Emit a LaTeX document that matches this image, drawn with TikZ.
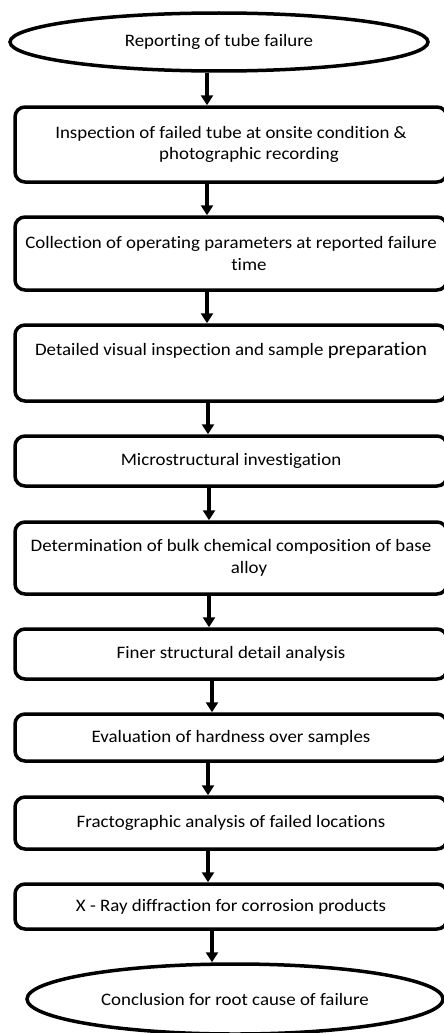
\documentclass[tikz,border=0pt]{standalone}
\usepackage{fontspec}
\setmainfont[FakeStretch=1.08, Ligatures=NoCommon]{Carlito}
\usetikzlibrary{shapes.geometric,arrows.meta}
\tikzset{
  stepbox/.style={draw=black, line width=3.5pt, rounded corners=10pt, minimum width=432pt,
    align=center, inner sep=0pt, font=\fontsize{17.5}{21.5}\selectfont},
  termnode/.style={draw=black, ellipse, line width=3.5pt, inner sep=0pt, align=center,
    font=\fontsize{17.5}{21.5}\selectfont},
  arr/.style={line width=3.5pt, -{Triangle[width=12pt,length=10pt]}}
}
\begin{document}
\begin{tikzpicture}[x=1pt,y=-1pt]
\useasboundingbox[fill=white] (0,0) rectangle (444,1033);
\node[termnode, minimum width=418pt, minimum height=58pt] (e1) at (219,42) {Reporting of tube failure};
\node[stepbox, minimum height=75pt] (b1) at (231,144.5) {Inspection of failed tube at onsite condition \&\\\hspace*{36pt}photographic recording};
\node[stepbox, minimum height=73pt] (b2) at (231,253.5) {Collection of operating parameters at reported failure\\\hspace*{36pt}time};
\node[stepbox, minimum height=76pt] (b3) at (231,363) {Detailed visual inspection and sample {\fontsize{19.2}{21.5}\selectfont preparation}\\\strut};
\node[stepbox, minimum height=50pt] (b4) at (231,461) {Microstructural investigation};
\node[stepbox, minimum height=72pt] (b5) at (231,558) {Determination of bulk chemical composition of base\\\hspace*{36pt}alloy};
\node[stepbox, minimum height=50pt] (b6) at (231,654) {Finer structural detail analysis};
\node[stepbox, minimum height=47pt] (b7) at (231,737.5) {Evaluation of hardness over samples};
\node[stepbox, minimum height=52pt] (b8) at (231,823) {Fractographic analysis of failed locations};
\node[stepbox, minimum height=45pt] (b9) at (231,906.5) {X - Ray diffraction for corrosion products};
\node[termnode, minimum width=416pt, minimum height=70pt] (e2) at (235,999) {Conclusion for root cause of failure};
\coordinate (a1) at (207,0);
\coordinate (a2) at (208,0);
\coordinate (a3) at (209,0);
\coordinate (a4) at (212,0);
\draw[arr] (e1.south -| a1) -- (b1.north -| a1);
\draw[arr] (b1.south -| a1) -- (b2.north -| a1);
\draw[arr] (b2.south -| a1) -- (b3.north -| a1);
\draw[arr] (b3.south -| a2) -- (b4.north -| a2);
\draw[arr] (b4.south -| a3) -- (b5.north -| a3);
\draw[arr] (b5.south -| a3) -- (b6.north -| a3);
\draw[arr] (b6.south -| a4) -- (b7.north -| a4);
\draw[arr] (b7.south -| a2) -- (b8.north -| a2);
\draw[arr] (b8.south -| a2) -- (b9.north -| a2);
\draw[arr] (b9.south -| a4) -- (e2.north -| a4);
\end{tikzpicture}
\end{document}
